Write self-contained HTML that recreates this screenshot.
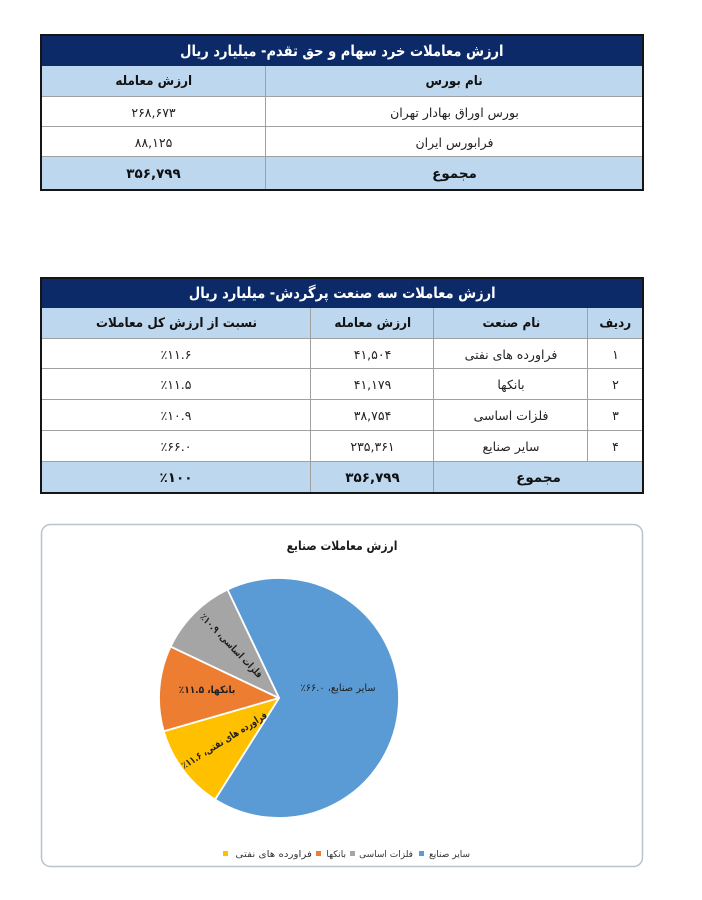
<!DOCTYPE html>
<html>
<head>
<meta charset="utf-8">
<style>
  html,body{margin:0;padding:0;background:#fff;}
  body{width:702px;height:900px;position:relative;overflow:hidden;font-family:"DejaVu Sans",sans-serif;color:#1a1a1a;}
  .abs{position:absolute;box-sizing:border-box;}
  .cell{position:absolute;display:flex;align-items:center;justify-content:center;box-sizing:border-box;direction:rtl;white-space:nowrap;}
  .cell > span{display:inline-block;}
  .title{background:#0c2a68;color:#fff;font-weight:bold;font-size:15px;}
  .title > span{transform:scaleX(0.87);}
  .hdr{background:#bdd7ee;font-weight:bold;font-size:13px;color:#111;}
  .hdr > span{transform:scaleX(0.92);}
  .body{background:#fff;font-size:12.5px;color:#222;}
  .tot{background:#bdd7ee;font-weight:bold;font-size:13.5px;color:#111;}
  .vl{position:absolute;width:1px;background:#a0a0a0;}
  .hl{position:absolute;height:1px;background:#a0a0a0;}
  .frame{position:absolute;border:2px solid #151515;box-sizing:border-box;}
  .ltr{direction:ltr;unicode-bidi:bidi-override;}
</style>
</head>
<body>

<!-- ===== Table 1 ===== -->
<div class="cell title" style="left:41px;top:35px;width:602px;height:31px;"><span>ارزش معاملات خرد سهام و حق تقدم- میلیارد ریال</span></div>
<div class="cell hdr" style="left:266px;top:66px;width:377px;height:31px;"><span>نام بورس</span></div>
<div class="cell hdr" style="left:41px;top:66px;width:225px;height:31px;"><span>ارزش معامله</span></div>
<div class="cell body" style="left:266px;top:97px;width:377px;height:30px;">بورس اوراق بهادار تهران</div>
<div class="cell body" style="left:41px;top:97px;width:225px;height:30px;"><span class="ltr">۲۶۸,۶۷۳</span></div>
<div class="cell body" style="left:266px;top:127px;width:377px;height:30px;">فرابورس ایران</div>
<div class="cell body" style="left:41px;top:127px;width:225px;height:30px;"><span class="ltr">۸۸,۱۲۵</span></div>
<div class="cell tot" style="left:266px;top:157px;width:377px;height:33px;">مجموع</div>
<div class="cell tot" style="left:41px;top:157px;width:225px;height:33px;"><span class="ltr">۳۵۶,۷۹۹</span></div>
<!-- lines -->
<div class="hl" style="left:41px;top:96px;width:602px;"></div>
<div class="hl" style="left:41px;top:126px;width:602px;"></div>
<div class="hl" style="left:41px;top:156px;width:602px;"></div>
<div class="vl" style="left:265px;top:66px;height:124px;"></div>
<div class="frame" style="left:40px;top:34px;width:604px;height:157px;"></div>

<!-- ===== Table 2 ===== -->
<div class="cell title" style="left:41px;top:278px;width:602px;height:30px;"><span>ارزش معاملات سه صنعت پرگردش- میلیارد ریال</span></div>
<div class="cell hdr" style="left:588px;top:308px;width:55px;height:31px;"><span>ردیف</span></div>
<div class="cell hdr" style="left:434px;top:308px;width:154px;height:31px;"><span>نام صنعت</span></div>
<div class="cell hdr" style="left:311px;top:308px;width:123px;height:31px;"><span>ارزش معامله</span></div>
<div class="cell hdr" style="left:41px;top:308px;width:270px;height:31px;"><span>نسبت از ارزش کل معاملات</span></div>

<div class="cell body" style="left:588px;top:339px;width:55px;height:30px;">۱</div>
<div class="cell body" style="left:434px;top:339px;width:154px;height:30px;">فراورده های نفتی</div>
<div class="cell body" style="left:311px;top:339px;width:123px;height:30px;"><span class="ltr">۴۱,۵۰۴</span></div>
<div class="cell body" style="left:41px;top:339px;width:270px;height:30px;"><span class="ltr">٪۱۱.۶</span></div>

<div class="cell body" style="left:588px;top:369px;width:55px;height:31px;">۲</div>
<div class="cell body" style="left:434px;top:369px;width:154px;height:31px;">بانکها</div>
<div class="cell body" style="left:311px;top:369px;width:123px;height:31px;"><span class="ltr">۴۱,۱۷۹</span></div>
<div class="cell body" style="left:41px;top:369px;width:270px;height:31px;"><span class="ltr">٪۱۱.۵</span></div>

<div class="cell body" style="left:588px;top:400px;width:55px;height:31px;">۳</div>
<div class="cell body" style="left:434px;top:400px;width:154px;height:31px;">فلزات اساسی</div>
<div class="cell body" style="left:311px;top:400px;width:123px;height:31px;"><span class="ltr">۳۸,۷۵۴</span></div>
<div class="cell body" style="left:41px;top:400px;width:270px;height:31px;"><span class="ltr">٪۱۰.۹</span></div>

<div class="cell body" style="left:588px;top:431px;width:55px;height:31px;">۴</div>
<div class="cell body" style="left:434px;top:431px;width:154px;height:31px;">سایر صنایع</div>
<div class="cell body" style="left:311px;top:431px;width:123px;height:31px;"><span class="ltr">۲۳۵,۳۶۱</span></div>
<div class="cell body" style="left:41px;top:431px;width:270px;height:31px;"><span class="ltr">٪۶۶.۰</span></div>

<div class="cell tot" style="left:434px;top:462px;width:209px;height:31px;">مجموع</div>
<div class="cell tot" style="left:311px;top:462px;width:123px;height:31px;"><span class="ltr">۳۵۶,۷۹۹</span></div>
<div class="cell tot" style="left:41px;top:462px;width:270px;height:31px;"><span class="ltr">٪۱۰۰</span></div>
<!-- lines -->
<div class="hl" style="left:41px;top:338px;width:602px;"></div>
<div class="hl" style="left:41px;top:368px;width:602px;"></div>
<div class="hl" style="left:41px;top:399px;width:602px;"></div>
<div class="hl" style="left:41px;top:430px;width:602px;"></div>
<div class="hl" style="left:41px;top:461px;width:602px;"></div>
<div class="vl" style="left:587px;top:308px;height:154px;"></div>
<div class="vl" style="left:433px;top:308px;height:185px;"></div>
<div class="vl" style="left:310px;top:308px;height:185px;"></div>
<div class="frame" style="left:40px;top:277px;width:604px;height:217px;"></div>

<!-- ===== Chart ===== -->
<svg class="abs" style="left:0;top:0;" width="702" height="900" viewBox="0 0 702 900" xmlns="http://www.w3.org/2000/svg">
  <rect x="41.5" y="524.5" width="601" height="342" rx="9" ry="9" fill="#fff" stroke="#b7c3cf" stroke-width="1.5"/>
  <text x="0" y="0" text-anchor="middle" font-family="DejaVu Sans, sans-serif" font-size="12.5" font-weight="bold" fill="#1a1a1a" direction="rtl" transform="translate(342,550) scale(0.86,1)">ارزش معاملات صنایع</text>

  <g stroke="#fff" stroke-width="1.8" stroke-linejoin="round">
    <path d="M279,698 L227.5,589.6 A120,120 0 1 1 215.05,799.5 Z" fill="#5b9bd5"/>
    <path d="M279,698 L215.05,799.5 A120,120 0 0 1 163.7,731.2 Z" fill="#ffc000"/>
    <path d="M279,698 L163.7,731.2 A120,120 0 0 1 170.6,646.6 Z" fill="#ed7d31"/>
    <path d="M279,698 L170.6,646.6 A120,120 0 0 1 227.5,589.6 Z" fill="#a5a5a5"/>
  </g>

  <g font-family="DejaVu Sans, sans-serif" font-size="10" fill="#1f1f1f">
    <text x="0" y="0" text-anchor="middle" direction="rtl" transform="translate(338,691) scale(0.98,1)">سایر صنایع، <tspan direction="ltr" unicode-bidi="bidi-override">٪۶۶.۰</tspan></text>
    <text x="0" y="0" text-anchor="middle" direction="rtl" font-weight="bold" transform="translate(207,693) scale(0.9,1)">بانکها، <tspan direction="ltr" unicode-bidi="bidi-override">٪۱۱.۵</tspan></text>
    <text x="0" y="0" text-anchor="middle" direction="rtl" font-weight="bold" transform="translate(229,648) rotate(46) scale(0.8,1)">فلزات اساسی، <tspan direction="ltr" unicode-bidi="bidi-override">٪۱۰.۹</tspan></text>
    <text x="0" y="0" text-anchor="middle" direction="rtl" font-weight="bold" transform="translate(226,743) rotate(-32) scale(0.78,1)">فراورده های نفتی، <tspan direction="ltr" unicode-bidi="bidi-override">٪۱۱.۶</tspan></text>
  </g>

  <!-- legend -->
  <g font-family="DejaVu Sans, sans-serif" font-size="9" fill="#333">
    <rect x="419" y="851" width="5" height="5" fill="#5b9bd5"/>
    <text x="0" y="0" text-anchor="end" transform="translate(470,857)">سایر صنایع</text>
    <rect x="350" y="851" width="5" height="5" fill="#a5a5a5"/>
    <text x="0" y="0" text-anchor="end" transform="translate(413,857)">فلزات اساسی</text>
    <rect x="316" y="851" width="5" height="5" fill="#ed7d31"/>
    <text x="0" y="0" text-anchor="end" transform="translate(346,857)">بانکها</text>
    <rect x="223" y="851" width="5" height="5" fill="#ffc000"/>
    <text x="0" y="0" text-anchor="end" transform="translate(312,857) scale(1.15,1)">فراورده های نفتی</text>
  </g>
</svg>

</body>
</html>
